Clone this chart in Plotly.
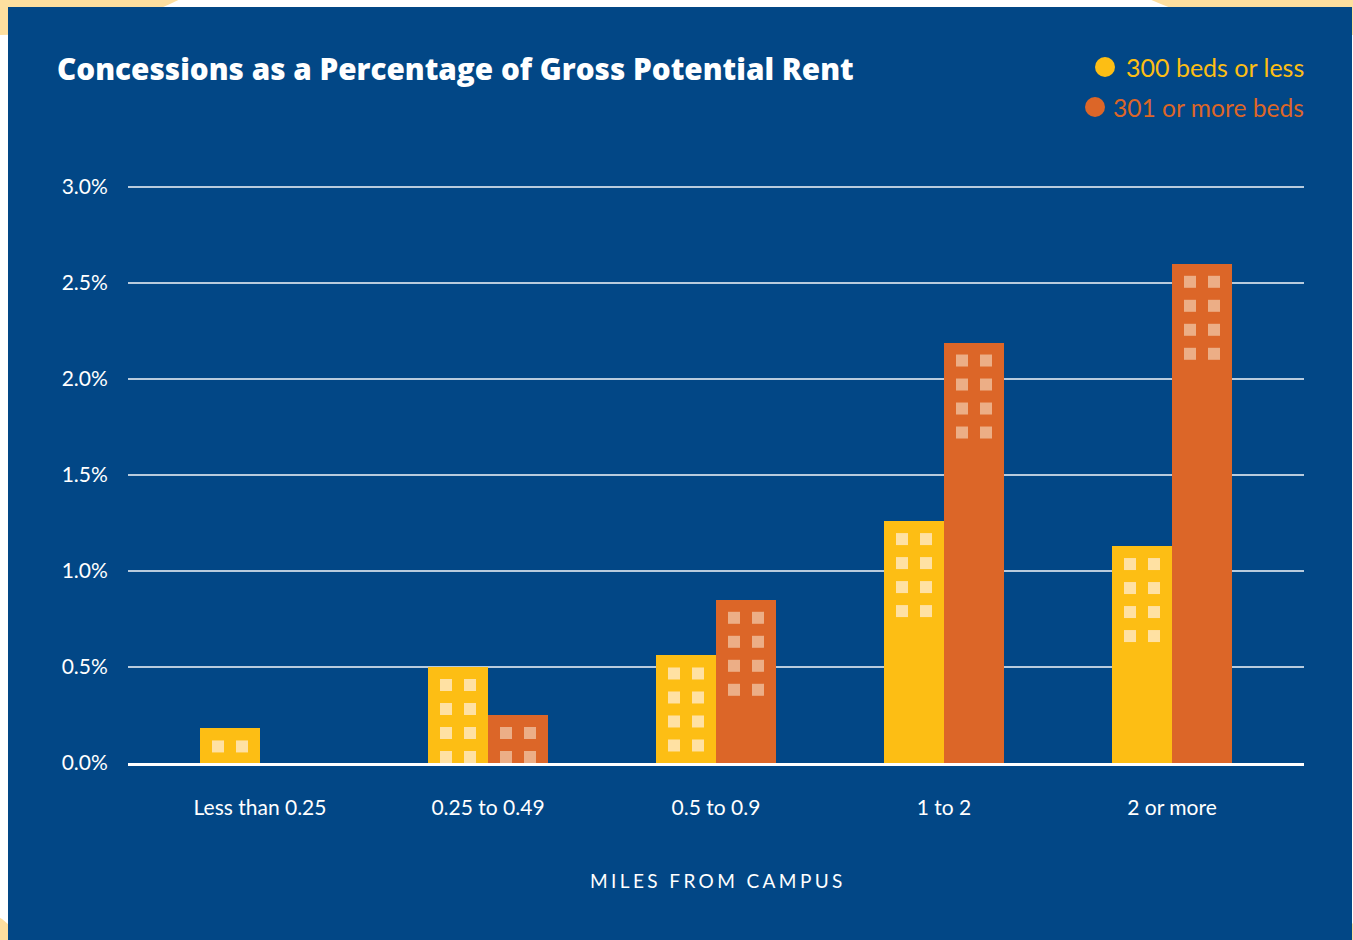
import plotly.graph_objects as go

categories = ["Less than 0.25", "0.25 to 0.49", "0.5 to 0.9", "1 to 2", "2 or more"]
small_beds = [0.18, 0.50, 0.56, 1.26, 1.13]   # 300 beds or less
large_beds = [0.00, 0.25, 0.85, 2.19, 2.60]   # 301 or more beds
y_ticks = [0.0, 0.5, 1.0, 1.5, 2.0, 2.5, 3.0]
y_ticktext = ["0.0%", "0.5%", "1.0%", "1.5%", "2.0%", "2.5%", "3.0%"]
series_names = ["300 beds or less", "301 or more beds"]

YELLOW = "#FDBE14"
ORANGE = "#DC6628"
YELLOW_WIN = "#FFE1A3"
ORANGE_WIN = "#ECAE86"
BLUE = "#024786"
BLOB = "#FEDF9F"
FONT = "Lato"

W, H = 1353, 940
L, R, T, B = 128, 1304, 181, 763
Y_TOP = (B - T) / 192  # 192 px per 1 %


def px(x):
    return (x - L) / (R - L)


def py(y):
    return (B - y) / (B - T)


xs = list(range(len(categories)))
bw = 60 / 228

fig = go.Figure()
fig.add_trace(go.Bar(x=xs, y=small_beds, name=series_names[0], marker=dict(color=YELLOW, line=dict(width=0)),
                     width=bw, offset=-bw, showlegend=False))
fig.add_trace(go.Bar(x=xs, y=large_beds, name=series_names[1], marker=dict(color=ORANGE, line=dict(width=0)),
                     width=bw, offset=0, showlegend=False))

shapes = []
# decorative blobs + panel
for (cx, cy, rx, ry) in [(0, -60, 230, 95), (1353, -60, 260, 95), (-40, 1000, 80, 95), (1400, 1000, 80, 95)]:
    shapes.append(dict(type="circle", xref="paper", yref="paper", layer="below",
                       x0=px(cx - rx), x1=px(cx + rx), y0=py(cy + ry), y1=py(cy - ry),
                       fillcolor=BLOB, line=dict(width=0)))
shapes.append(dict(type="rect", xref="paper", yref="paper", layer="below",
                   x0=px(8), x1=px(1352), y0=py(950), y1=py(7),
                   fillcolor=BLUE, line=dict(width=0)))

# windows on bars
for vals, center_off, wcol in [(small_beds, -bw / 2, YELLOW_WIN), (large_beds, bw / 2, ORANGE_WIN)]:
    for i, v in enumerate(vals):
        if v <= 0:
            continue
        for k in range(4):
            for (a, b) in [(-18, -6), (6, 18)]:
                shapes.append(dict(type="rect", xref="x", yref="y", layer="above",
                                   xsizemode="pixel", ysizemode="pixel",
                                   xanchor=i + center_off, yanchor=v,
                                   x0=a, x1=b, y0=-24 - 24 * k, y1=-12 - 24 * k,
                                   fillcolor=wcol, line=dict(width=0)))

# legend circles
shapes.append(dict(type="circle", xref="paper", yref="paper", xsizemode="pixel", ysizemode="pixel",
                   xanchor=1.0, yanchor=py(67), x0=1095 - R, x1=1115 - R, y0=-10, y1=10,
                   fillcolor=YELLOW, line=dict(width=0)))
shapes.append(dict(type="circle", xref="paper", yref="paper", xsizemode="pixel", ysizemode="pixel",
                   xanchor=1.0, yanchor=py(107), x0=1085 - R, x1=1105 - R, y0=-10, y1=10,
                   fillcolor=ORANGE, line=dict(width=0)))

annotations = [
    dict(text="Concessions as a Percentage of Gross Potential Rent", xref="paper", yref="paper",
         x=px(55), y=py(68), xanchor="left", yanchor="middle", showarrow=False,
         font=dict(family="Open Sans", size=29.7, color="white", weight=800)),
    dict(text=series_names[0], xref="paper", yref="paper", x=1.0, y=py(67), xanchor="right", yanchor="middle",
         xshift=2, showarrow=False, font=dict(family=FONT, size=25, color=YELLOW)),
    dict(text=series_names[1], xref="paper", yref="paper", x=1.0, y=py(107), xanchor="right", yanchor="middle",
         xshift=2, showarrow=False, font=dict(family=FONT, size=24.6, color=ORANGE)),
    dict(text="<span style='letter-spacing:3.4px'>MILES FROM CAMPUS</span>", xref="paper", yref="paper",
         x=px(718), y=py(880), xanchor="center", yanchor="middle", showarrow=False,
         font=dict(family=FONT, size=19, color="white")),
]

fig.update_layout(
    width=W, height=H,
    margin=dict(l=L, r=W - R, t=T, b=H - B, pad=0),
    paper_bgcolor="white", plot_bgcolor="rgba(0,0,0,0)",
    barmode="overlay", bargap=0,
    shapes=shapes, annotations=annotations,
    font=dict(family=FONT, color="white", size=21),
    xaxis=dict(range=[-132 / 228, 4 + 132 / 228], tickvals=xs, ticktext=categories,
               showgrid=False, zeroline=False, showline=True, linecolor="white", linewidth=2.5,
               ticks="outside", ticklen=24, tickcolor="rgba(0,0,0,0)",
               tickfont=dict(family=FONT, size=21, color="white"), fixedrange=True),
    yaxis=dict(range=[0, Y_TOP], tickvals=y_ticks, ticktext=y_ticktext,
               showgrid=True, gridcolor="rgba(255,255,255,0.72)", gridwidth=1.5,
               zeroline=False, showline=False,
               ticks="outside", ticklen=15, tickcolor="rgba(0,0,0,0)",
               tickfont=dict(family=FONT, size=21, color="white"), fixedrange=True),
)

fig.write_html("out.html", config={"displayModeBar": False})
